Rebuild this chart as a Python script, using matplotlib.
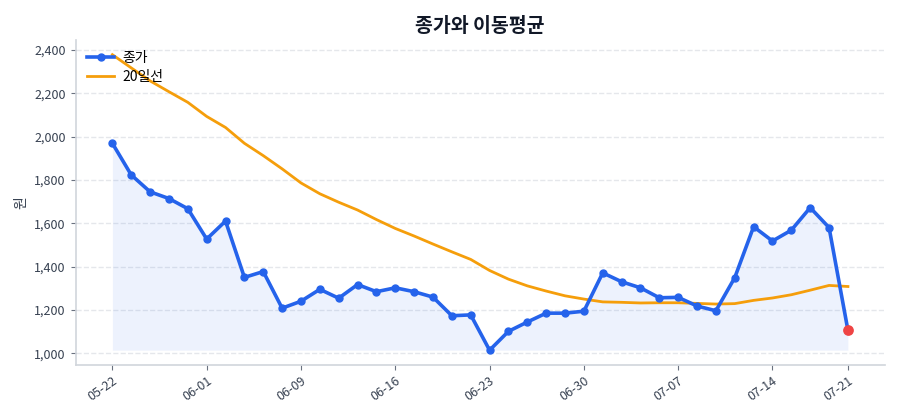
import matplotlib
matplotlib.use('Agg')
from matplotlib import pyplot as plt
from matplotlib.ticker import FuncFormatter

plt.rcParams['font.family'] = ['Noto Sans CJK KR', 'DejaVu Sans']
plt.rcParams['axes.unicode_minus'] = False

dates = ['05-22', '05-25', '05-26', '05-27', '05-28', '06-01', '06-02', '06-03',
         '06-04', '06-05', '06-09', '06-10', '06-11', '06-12', '06-15', '06-16',
         '06-17', '06-18', '06-19', '06-22', '06-23', '06-24', '06-25', '06-26',
         '06-29', '06-30', '07-01', '07-02', '07-03', '07-06', '07-07', '07-08',
         '07-09', '07-10', '07-13', '07-14', '07-15', '07-16', '07-17', '07-21']
close = [1970, 1824, 1746, 1715, 1668, 1528, 1611, 1351, 1378, 1209,
         1241, 1296, 1255, 1318, 1285, 1303, 1285, 1260, 1174, 1178,
         1015, 1102, 1145, 1186, 1186, 1195, 1372, 1331, 1303, 1257,
         1259, 1219, 1197, 1350, 1585, 1519, 1569, 1673, 1581, 1107]
ma20 = [2379, 2318, 2258, 2208, 2159, 2094, 2043, 1970, 1913, 1852,
        1787, 1737, 1698, 1662, 1618, 1577, 1542, 1505, 1469, 1434,
        1383, 1343, 1312, 1288, 1266, 1251, 1238, 1236, 1233, 1234,
        1234, 1231, 1228, 1230, 1245, 1256, 1271, 1292, 1314, 1309]

x = list(range(len(dates)))

fig = plt.figure(figsize=(9, 4.2), dpi=100)
ax = fig.gca()
fig.subplots_adjust(left=0.084, right=0.983, top=0.905, bottom=0.131)

ax.fill_between(x, close, min(close), color='#2563eb', alpha=0.08, lw=0)
ax.plot(x, close, '-o', color='#2563eb', lw=2.6, ms=5, label='종가', zorder=3)
ax.plot(x, ma20, '-', color='#f59e0b', lw=2, label='20일선', zorder=2)
ax.scatter([x[-1]], [close[-1]], s=45, color='#ef4444', zorder=4)

ticks = list(range(0, len(x), 5))
if ticks[-1] != x[-1]:
    ticks.append(x[-1])
ax.set_xticks(ticks)
ax.set_xticklabels([dates[i] for i in ticks], rotation=35, ha='right', rotation_mode='anchor')
ax.yaxis.set_major_formatter(FuncFormatter(lambda v, p: f'{v:,.0f}'))

ax.set_title('종가와 이동평균', fontsize=14, fontweight='bold', color='#111827', pad=6)
ax.set_ylabel('원', color='#374151', fontsize=10)
ax.grid(axis='y', linestyle='--', color='#e5e7eb', lw=1)
ax.set_axisbelow(True)
for s in ['top', 'right']:
    ax.spines[s].set_visible(False)
for s in ['left', 'bottom']:
    ax.spines[s].set_color('#d1d5db')
    ax.spines[s].set_linewidth(1.2)
ax.tick_params(colors='#6b7280', labelsize=9, labelcolor='#374151')

ax.legend(loc='upper left', frameon=False, fontsize=10, borderaxespad=0.4,
          labelspacing=0.35, handletextpad=0.6)

plt.savefig('out.png', dpi=100)
